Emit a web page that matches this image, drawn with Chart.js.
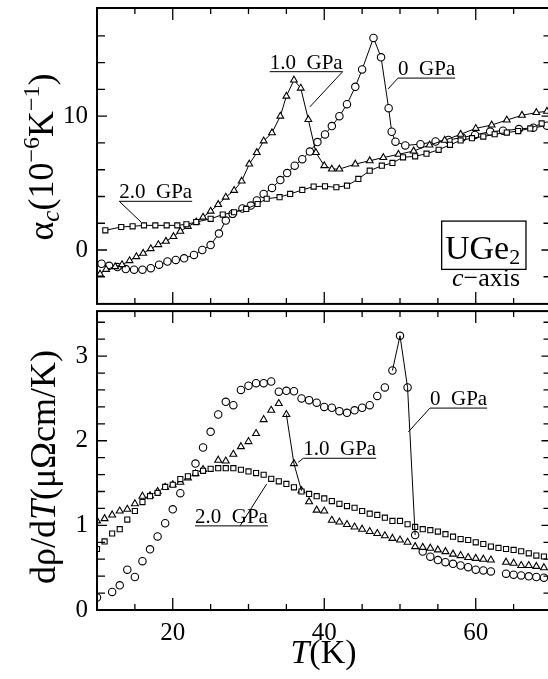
<!DOCTYPE html>
<html><head><meta charset="utf-8">
<script src="https://cdn.jsdelivr.net/npm/chart.js@4.4.1/dist/chart.umd.min.js"></script>
<style>
html,body{margin:0;padding:0;background:#fff;overflow:hidden;}
#wrap{position:relative;width:548px;height:679px;overflow:hidden;background:#fff;}
canvas{position:absolute;left:0;}
#cTop{top:0;} #cBot{top:306px;}
</style></head><body>
<div id="wrap"><canvas id="cTop" width="560" height="309"></canvas><canvas id="cBot" width="560" height="373"></canvas></div>
<script>
// ---------- DATA ----------
// Top panel: alpha_c (10^-6 K^-1) vs T (K)
const tempAlpha0 = [10.6, 11.6, 12.7, 13.8, 14.9, 16.0, 17.1, 18.2, 19.3, 20.4, 21.5, 22.8, 23.9, 25.0, 26.1, 27.0, 27.9, 29.2, 30.3, 31.1, 32.0, 33.1, 34.2, 35.1, 36.1, 37.1, 38.1, 39.1, 40.1, 41.0, 42.0, 43.0, 44.1, 45.0, 46.5, 47.5, 48.5, 48.9, 49.4, 50.7, 52.7, 54.7, 56.4, 58.2, 59.9, 61.9, 63.6, 65.7, 67.6, 69.4];
const alpha0 = [-1.03, -1.18, -1.28, -1.43, -1.47, -1.47, -1.36, -1.10, -0.86, -0.74, -0.62, -0.37, 0.0, 0.37, 1.23, 2.2, 2.7, 3.1, 3.32, 3.70, 4.19, 4.64, 5.23, 5.75, 6.30, 6.79, 7.36, 8.07, 8.64, 9.26, 10.0, 10.9, 12.2, 13.5, 15.85, 14.4, 10.6, 8.84, 8.10, 7.82, 7.91, 8.11, 8.23, 8.40, 8.60, 8.85, 8.92, 9.04, 9.14, 9.29];
const tempAlpha1 = [10.4, 11.2, 12.4, 13.3, 14.3, 15.2, 16.1, 17.1, 18.1, 19.1, 20.1, 21.0, 22.0, 23.1, 24.0, 25.0, 26.0, 27.0, 28.1, 29.1, 30.1, 31.1, 32.0, 33.1, 34.2, 35.0, 36.0, 36.9, 37.9, 38.9, 40.0, 41.0, 42.0, 44.1, 46.0, 47.8, 49.8, 51.8, 53.9, 55.9, 58.0, 60.0, 62.1, 64.1, 66.1, 68.0, 69.4];
const alpha1 = [-1.8, -1.45, -1.25, -1.1, -0.8, -0.5, -0.25, 0.1, 0.4, 0.65, 1.0, 1.4, 1.75, 2.1, 2.45, 2.9, 3.4, 3.95, 4.45, 5.15, 6.42, 7.28, 8.15, 8.76, 10.0, 11.5, 12.7, 12.1, 9.75, 7.28, 6.30, 6.05, 6.05, 6.42, 6.67, 6.91, 7.15, 7.4, 7.85, 8.2, 8.65, 9.09, 9.34, 9.71, 10.07, 10.27, 10.37];
const tempAlpha2 = [11.1, 13.2, 14.7, 16.2, 17.7, 19.2, 20.6, 21.8, 23.1, 25.0, 26.6, 28.1, 29.7, 31.2, 32.4, 34.1, 35.5, 37.1, 38.6, 40.1, 41.6, 43.0, 44.5, 46.0, 47.6, 49.0, 50.4, 52.0, 53.5, 55.1, 56.6, 58.0, 59.5, 61.0, 62.5, 64.1, 65.6, 67.2, 68.7];
const alpha2 = [1.47, 1.72, 1.77, 1.84, 1.84, 1.84, 1.84, 1.92, 2.09, 2.33, 2.65, 2.82, 3.07, 3.44, 3.83, 3.95, 4.19, 4.49, 4.74, 4.76, 4.69, 4.81, 5.31, 5.93, 6.30, 6.51, 6.93, 7.0, 7.2, 7.49, 7.86, 8.19, 8.36, 8.48, 8.65, 8.78, 8.89, 9.09, 9.46];

// Bottom panel: d rho / dT (micro-ohm cm / K) vs T (K)
const tempDrho0 = [10, 12, 13, 14, 15, 16, 17, 18, 19, 20, 21, 23, 24, 25, 26, 27, 28, 29, 30, 31, 32, 33, 34, 35, 36, 37, 38, 39, 40, 41, 42, 43, 44, 45, 46, 47, 48, 49, 50, 51, 52, 53, 54, 55, 56, 57, 58, 59, 60, 61, 62, 64, 65, 66, 67, 68, 69];
const drho0 = [0.148, 0.214, 0.292, 0.476, 0.39, 0.577, 0.717, 0.869, 1.025, 1.19, 1.38, 1.73, 1.92, 2.105, 2.31, 2.46, 2.42, 2.60, 2.65, 2.68, 2.68, 2.70, 2.58, 2.59, 2.585, 2.50, 2.48, 2.45, 2.40, 2.39, 2.35, 2.33, 2.36, 2.39, 2.42, 2.53, 2.63, 2.83, 3.24, 2.63, 0.885, 0.69, 0.63, 0.59, 0.565, 0.546, 0.526, 0.506, 0.476, 0.468, 0.456, 0.429, 0.417, 0.409, 0.398, 0.39, 0.382];
const tempDrho1 = [10, 11, 12, 13, 14, 15, 16, 17, 18, 19, 20, 21, 22, 23, 24, 26, 27, 28, 29, 30, 31, 32, 33, 34, 35, 36, 37, 38, 39, 40, 41, 42, 43, 44, 45, 46, 47, 48, 49, 50, 51, 52, 53, 54, 55, 56, 57, 58, 59, 60, 61, 62, 64, 65, 66, 67, 68, 69];
const drho1 = [1.053, 1.08, 1.123, 1.17, 1.19, 1.255, 1.345, 1.35, 1.40, 1.45, 1.48, 1.51, 1.56, 1.61, 1.66, 1.77, 1.76, 1.84, 1.93, 1.99, 2.085, 2.25, 2.36, 2.44, 2.31, 1.73, 1.41, 1.28, 1.18, 1.17, 1.06, 1.04, 1.01, 0.98, 0.955, 0.927, 0.904, 0.877, 0.846, 0.827, 0.80, 0.749, 0.74, 0.73, 0.71, 0.69, 0.66, 0.643, 0.62, 0.61, 0.60, 0.59, 0.565, 0.553, 0.526, 0.526, 0.515, 0.50];
const tempDrho2 = [10, 11, 12, 13, 14, 15, 16, 17, 18, 19, 20, 21, 22, 23, 24, 25, 26, 27, 28, 29, 30, 31, 32, 33, 34, 35, 36, 37, 38, 39, 40, 41, 42, 43, 44, 45, 46, 47, 48, 49, 50, 51, 52, 53, 54, 55, 56, 57, 58, 59, 60, 61, 62, 63, 64, 65, 66, 67, 68, 69];
const drho2 = [0.721, 0.81, 0.904, 0.955, 1.068, 1.17, 1.275, 1.345, 1.384, 1.454, 1.48, 1.547, 1.58, 1.618, 1.645, 1.668, 1.676, 1.676, 1.676, 1.657, 1.637, 1.618, 1.598, 1.55, 1.52, 1.49, 1.45, 1.40, 1.372, 1.345, 1.318, 1.287, 1.255, 1.228, 1.208, 1.17, 1.138, 1.123, 1.091, 1.053, 1.053, 1.013, 0.982, 0.955, 0.943, 0.927, 0.896, 0.866, 0.838, 0.827, 0.80, 0.78, 0.749, 0.733, 0.721, 0.71, 0.694, 0.67, 0.643, 0.632];

// Ticks
const xTicks = [15, 20, 25, 30, 35, 40, 45, 50, 55, 60, 65];
const xTickLabels = [20, 40, 60];
const alphaTicks = [-2, 0, 2, 4, 6, 8, 10, 12, 14, 16];
const alphaTickLabels = [0, 10];
const drhoTicks = [0.2, 0.4, 0.6, 0.8, 1.0, 1.2, 1.4, 1.6, 1.8, 2.0, 2.2, 2.4, 2.6, 2.8, 3.0, 3.2, 3.4];
const drhoTickLabels = [0, 1, 2, 3];
const seriesNames = ['0 GPa', '1.0 GPa', '2.0 GPa'];

// ---------- HELPERS ----------
const FONT = "'Liberation Serif', 'Times New Roman', serif";
Chart.defaults.font.family = FONT;
Chart.defaults.color = '#000';

function pts(xs, ys) { return xs.map((x, i) => ({x: x, y: ys[i]})); }
function ptsRange(xs, ys, lo, hi) { return pts(xs, ys).filter(p => p.x >= lo && p.x <= hi); }

function drawRich(ctx, segs, x, y, center) {
  let w = 0;
  for (const s of segs) { ctx.font = s.f + ' ' + FONT; w += ctx.measureText(s.t).width; }
  let cx = center ? x - w / 2 : x;
  for (const s of segs) {
    ctx.font = s.f + ' ' + FONT;
    ctx.fillText(s.t, cx, y + (s.dy || 0));
    cx += ctx.measureText(s.t).width;
  }
}
const near = (list, v) => list.some(u => Math.abs(u - v) < 1e-6);

function drawFrame(chart, yId, yTicks, yMajor) {
  const ctx = chart.ctx, a = chart.chartArea;
  const xs = chart.scales.x, ys = chart.scales[yId];
  ctx.save();
  ctx.strokeStyle = '#000';
  ctx.lineWidth = 2;
  ctx.strokeRect(a.left, a.top, a.right - a.left, a.bottom - a.top);
  ctx.lineWidth = 1.3;
  ctx.beginPath();
  for (const v of xTicks) {
    const px = xs.getPixelForValue(v);
    const L = near(xTickLabels, v) ? 12 : 6;
    ctx.moveTo(px, a.bottom); ctx.lineTo(px, a.bottom - L);
    ctx.moveTo(px, a.top); ctx.lineTo(px, a.top + L);
  }
  for (const v of yTicks) {
    const py = ys.getPixelForValue(v);
    const L = near(yMajor, v) ? 10 : 8;
    ctx.moveTo(a.left, py); ctx.lineTo(a.left + L, py);
    ctx.moveTo(a.right, py); ctx.lineTo(a.right - L, py);
  }
  ctx.stroke();
  ctx.restore();
}

function drawLabel(chart, yId, lab) {
  const ctx = chart.ctx, xs = chart.scales.x, ys = chart.scales[yId];
  ctx.save();
  ctx.fillStyle = '#000'; ctx.strokeStyle = '#000'; ctx.lineWidth = 1;
  ctx.font = '21px ' + FONT; ctx.textAlign = 'left'; ctx.textBaseline = 'alphabetic';
  const x0 = xs.getPixelForValue(lab.x), uy = ys.getPixelForValue(lab.y);
  const w = ctx.measureText(lab.text).width;
  ctx.fillText(lab.text, x0, uy - 3);
  ctx.beginPath();
  ctx.moveTo(x0, uy); ctx.lineTo(x0 + w, uy);
  const fx = lab.from === 'right' ? x0 + w : (lab.from === 'left' ? x0 : xs.getPixelForValue(lab.from));
  ctx.moveTo(fx, uy); ctx.lineTo(xs.getPixelForValue(lab.tx), ys.getPixelForValue(lab.ty));
  ctx.stroke();
  ctx.restore();
}

function ds(label, data, style, r, line) {
  return {label: label, data: data, showLine: line, borderColor: '#000', borderWidth: 1,
    pointStyle: style, pointRadius: r, pointBackgroundColor: '#fff', pointBorderColor: '#000',
    pointBorderWidth: 1.1, tension: 0};
}

// ---------- TOP CHART ----------
new Chart(document.getElementById('cTop'), {
  type: 'scatter',
  data: {datasets: [
    ds(seriesNames[2], pts(tempAlpha2, alpha2), 'rect', 3.6, true),
    ds(seriesNames[1], pts(tempAlpha1, alpha1), 'triangle', 3.9, true),
    ds(seriesNames[0], pts(tempAlpha0, alpha0), 'circle', 3.7, true)
  ]},
  options: {
    responsive: false, animation: false, events: [],
    layout: {padding: {top: 8, left: 0, right: 8.5, bottom: 1}},
    plugins: {legend: {display: false}, tooltip: {enabled: false}},
    scales: {
      x: {type: 'linear', min: 10, max: 70, display: false},
      y: {type: 'linear', min: -4.03, max: 18.09,
        afterBuildTicks: s => { s.ticks = alphaTickLabels.map(v => ({value: v})); },
        afterFit: s => { s.width = 97; s.paddingTop = 0; s.paddingBottom = 0; },
        grid: {display: false, drawTicks: false}, border: {display: false},
        ticks: {font: {size: 25}, padding: 9, color: '#000'}}
    }
  },
  plugins: [{id: 'decoTop', afterDraw(chart) {
    drawFrame(chart, 'y', alphaTicks, alphaTickLabels);
    const ctx = chart.ctx;
    drawLabel(chart, 'y', {text: '1.0  GPa', x: 32.8, y: 13.33, from: 'right', tx: 38.1, ty: 10.7});
    drawLabel(chart, 'y', {text: '0  GPa', x: 49.74, y: 12.85, from: 'left', tx: 48.42, ty: 12.04});
    drawLabel(chart, 'y', {text: '2.0  GPa', x: 12.94, y: 3.64, from: 'left', tx: 15.81, ty: 2.09});
    const xs = chart.scales.x, ys = chart.scales.y;
    ctx.save();
    ctx.fillStyle = '#000'; ctx.strokeStyle = '#000'; ctx.textAlign = 'left'; ctx.textBaseline = 'alphabetic';
    // UGe2 box
    const bx0 = xs.getPixelForValue(55.5), bx1 = xs.getPixelForValue(66.63);
    const by0 = ys.getPixelForValue(2.16), by1 = ys.getPixelForValue(-1.45);
    ctx.lineWidth = 1.3;
    ctx.strokeRect(bx0, by0, bx1 - bx0, by1 - by0);
    drawRich(ctx, [{t: 'UGe', f: '34px'}, {t: '2', f: '22px', dy: 5}], xs.getPixelForValue(55.94), ys.getPixelForValue(-0.64), false);
    drawRich(ctx, [{t: 'c', f: 'italic 26px'}, {t: '\u2212axis', f: '26px'}], xs.getPixelForValue(56.87), ys.getPixelForValue(-2.71), false);
    // y title
    ctx.translate(53, 157); ctx.rotate(-Math.PI / 2);
    drawRich(ctx, [{t: '\u03B1', f: '36px'}, {t: 'c', f: 'italic 25px', dy: 6}, {t: '(10', f: '36px'},
      {t: '\u22126', f: '24px', dy: -14}, {t: 'K', f: '36px'}, {t: '\u22121', f: '24px', dy: -14}, {t: ')', f: '36px'}], 0, 0, true);
    ctx.restore();
  }}]
});

// ---------- BOTTOM CHART ----------
new Chart(document.getElementById('cBot'), {
  type: 'scatter',
  data: {datasets: [
    {label: 'guide 0 GPa', data: ptsRange(tempDrho0, drho0, 49, 52), showLine: true, borderColor: '#000', borderWidth: 1, pointRadius: 0, tension: 0},
    {label: 'guide 1.0 GPa', data: ptsRange(tempDrho1, drho1, 35, 37), showLine: true, borderColor: '#000', borderWidth: 1, pointRadius: 0, tension: 0},
    ds(seriesNames[2], pts(tempDrho2, drho2), 'rect', 3.6, false),
    ds(seriesNames[1], pts(tempDrho1, drho1), 'triangle', 4.0, false),
    ds(seriesNames[0], pts(tempDrho0, drho0), 'circle', 3.7, false)
  ]},
  options: {
    responsive: false, animation: false, events: [],
    layout: {padding: {top: 2, left: 0, right: 8.5, bottom: 0}},
    plugins: {legend: {display: false}, tooltip: {enabled: false}},
    scales: {
      x: {type: 'linear', min: 10, max: 70,
        afterBuildTicks: s => { s.ticks = xTickLabels.map(v => ({value: v})); },
        afterFit: s => { s.height = 69; s.paddingLeft = 0; s.paddingRight = 0; },
        grid: {display: false, drawTicks: false}, border: {display: false},
        ticks: {font: {size: 25}, padding: 8, maxRotation: 0, autoSkip: false, color: '#000'}},
      y: {type: 'linear', min: 0, max: 3.532,
        afterBuildTicks: s => { s.ticks = drhoTickLabels.map(v => ({value: v})); },
        afterFit: s => { s.width = 97; s.paddingTop = 0; s.paddingBottom = 0; },
        grid: {display: false, drawTicks: false}, border: {display: false},
        ticks: {font: {size: 25}, padding: 9, color: '#000'}}
    }
  },
  plugins: [{id: 'decoBot', afterDraw(chart) {
    drawFrame(chart, 'y', drhoTicks, drhoTickLabels);
    const ctx = chart.ctx;
    drawLabel(chart, 'y', {text: '0  GPa', x: 53.96, y: 2.386, from: 'left', tx: 51.1, ty: 2.105});
    drawLabel(chart, 'y', {text: '1.0  GPa', x: 37.23, y: 1.793, from: 'left', tx: 36.57, ty: 1.746});
    drawLabel(chart, 'y', {text: '2.0  GPa', x: 22.94, y: 0.994, from: 28.88, tx: 32.4, ty: 1.489});
    ctx.save();
    ctx.fillStyle = '#000'; ctx.textAlign = 'left'; ctx.textBaseline = 'alphabetic';
    // x title
    drawRich(ctx, [{t: 'T', f: 'italic 34px'}, {t: '(K)', f: '34px'}], 323.5, 357, true);
    // y title
    ctx.translate(55, 161); ctx.rotate(-Math.PI / 2);
    drawRich(ctx, [{t: 'd\u03C1/d', f: '36px'}, {t: 'T', f: 'italic 36px'}, {t: '(\u03BC\u03A9cm/K)', f: '36px'}], 0, 0, true);
    ctx.restore();
  }}]
});
</script>
</body></html>
